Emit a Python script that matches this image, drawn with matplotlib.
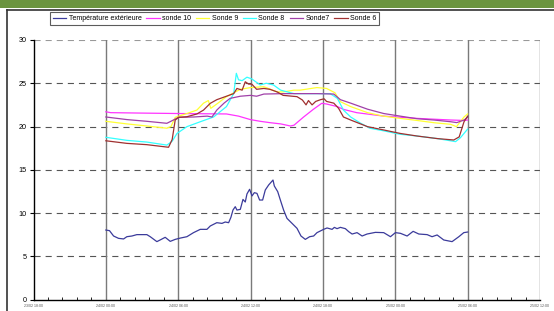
import matplotlib.pyplot as plt
from matplotlib.patches import Rectangle
from matplotlib.lines import Line2D
import numpy as np

plt.rcParams['font.family'] = ['Liberation Sans', 'DejaVu Sans']

# hours since 24/02 00:00
tick_labels = ["23/02 18:00", "24/02 00:00", "24/02 06:00", "24/02 12:00",
               "24/02 18:00", "25/02 00:00", "25/02 06:00", "25/02 12:00"]
tick_hours = [-6, 0, 6, 12, 18, 24, 30, 36]

ext_h = [0, 0.3, 0.64, 1.05, 1.47, 1.74, 2.16, 2.57, 3.4, 3.68, 4.23, 4.5, 4.92, 5.34,
         5.75, 6.17, 6.72, 7.27, 7.83, 8.38, 8.66, 9.2, 9.63, 9.9, 10.18, 10.37, 10.54,
         10.73, 10.87, 11.15, 11.37, 11.56, 11.7, 11.92, 12.12, 12.31, 12.53, 12.75, 13.0,
         13.22, 13.5, 13.86, 13.97, 14.25, 14.47, 14.74, 15.02, 15.44, 15.85, 16.18, 16.54,
         16.9, 17.23, 17.51, 18.06, 18.34, 18.76, 18.95, 19.17, 19.45, 19.86, 20.14, 20.42,
         20.83, 21.25, 21.66, 22.35, 23.04, 23.6, 24.01, 24.43, 24.98, 25.48, 25.95, 26.64,
         27.05, 27.47, 28.02, 28.71, 29.27, 29.68, 30.0]
ext_t = [8.03, 7.96, 7.34, 7.07, 7.0, 7.26, 7.34, 7.5, 7.5, 7.26, 6.69, 6.88, 7.19, 6.72,
         6.95, 7.1, 7.26, 7.73, 8.11, 8.11, 8.5, 8.88, 8.8, 8.96, 8.88, 9.5, 10.34,
         10.73, 10.34, 10.42, 11.57, 11.27, 12.2, 12.74, 11.97, 12.35, 12.27, 11.5, 11.5,
         12.66, 13.24, 13.81, 13.12, 12.47, 11.5, 10.34, 9.38, 8.8, 8.23, 7.34, 6.95,
         7.26, 7.34, 7.73, 8.11, 8.27, 8.11, 8.34, 8.19, 8.34, 8.19, 7.84, 7.57,
         7.73, 7.34, 7.57, 7.76, 7.73, 7.26, 7.73, 7.65, 7.34, 7.88, 7.57, 7.5,
         7.26, 7.46, 6.88, 6.69, 7.26, 7.73, 7.8]

s10_h = [0, 0.4, 3.0, 6.0, 10.0, 11.0, 11.98, 12.8, 13.63, 14.5, 15.3, 15.6, 16.4, 17.2,
         17.9, 18.3, 19.2, 19.7, 20.8, 23.04, 25.8, 28.6, 29.68, 30.0]
s10_t = [21.7, 21.6, 21.55, 21.5, 21.45, 21.2, 20.8, 20.6, 20.44, 20.3, 20.06, 20.15, 21.1,
         21.98, 22.68, 22.6, 22.3, 21.98, 21.6, 21.2, 20.94, 20.75, 20.7, 20.75]

s9_h = [0, 1.74, 3.4, 5.06, 5.4, 5.75, 6.72, 7.55, 8.1, 8.5, 8.7, 9.2, 10.0, 11.15, 12.0,
        13.1, 14.2, 14.7, 15.6, 16.1, 17.5, 18.3, 19.0, 19.45, 20.3, 21.7, 23.0, 24.4,
        25.8, 27.2, 28.6, 29.07, 29.7, 30.0]
s9_t = [20.6, 20.3, 20.06, 19.8, 20.0, 21.06, 21.5, 21.9, 22.7, 23.0, 22.1, 22.6, 23.45,
        24.3, 24.5, 24.6, 24.0, 24.0, 24.2, 24.2, 24.5, 24.4, 23.9, 22.87, 22.3, 21.6,
        21.2, 20.94, 20.7, 20.44, 20.25, 19.98, 21.1, 21.45]

s8_h = [0, 1.74, 3.4, 5.06, 5.5, 5.9, 6.72, 7.83, 8.93, 10.0, 10.6, 10.82, 11.0, 11.3,
        11.7, 12.1, 12.8, 13.3, 13.9, 14.5, 15.6, 17.5, 18.6, 19.2, 19.7, 20.3, 21.1,
        21.9, 23.04, 24.4, 25.8, 27.5, 29.0, 29.4, 30.0]
s8_t = [18.75, 18.4, 18.2, 17.85, 18.3, 19.2, 19.98, 20.55, 21.1, 22.3, 23.8, 26.15, 25.4,
        25.3, 25.7, 25.5, 24.8, 25.0, 24.8, 24.2, 23.8, 23.8, 23.8, 23.25, 21.9, 21.1, 20.4,
        19.8, 19.5, 19.1, 18.9, 18.6, 18.25, 18.7, 19.7]

s7_h = [0, 1.74, 3.4, 5.06, 5.6, 6.03, 7.3, 8.4, 8.8, 9.2, 9.8, 10.3, 11.15, 12.0, 12.5,
        13.1, 14.7, 17.5, 18.9, 19.45, 20.3, 21.7, 23.04, 24.4, 25.8, 27.2, 28.6, 29.1,
        29.7, 30.0]
s7_t = [21.1, 20.8, 20.6, 20.37, 20.75, 21.06, 21.1, 21.2, 21.1, 21.9, 22.7, 23.25, 23.5,
        23.6, 23.5, 23.75, 23.8, 23.8, 23.75, 23.1, 22.7, 22.0, 21.5, 21.2, 20.9, 20.75,
        20.55, 20.45, 20.75, 21.06]

s6_h = [0, 1.74, 3.4, 5.2, 5.5, 5.75, 6.03, 6.72, 7.55, 8.1, 8.66, 9.2, 10.0, 10.6, 10.87,
        11.3, 11.56, 11.84, 12.1, 12.5, 13.1, 13.6, 14.2, 14.7, 15.85, 16.3, 16.6, 16.8,
        17.1, 17.4, 17.8, 18.1, 18.3, 18.9, 19.3, 19.7, 20.3, 21.7, 23.04, 24.4, 25.8,
        27.5, 28.85, 29.3, 29.7, 30.0]
s6_t = [18.35, 18.05, 17.9, 17.6, 18.5, 20.75, 21.06, 21.13, 21.45, 21.9, 22.68, 23.1,
        23.5, 23.8, 24.4, 24.2, 25.17, 24.9, 24.9, 24.3, 24.4, 24.3, 24.0, 23.6, 23.45,
        23.06, 22.5, 23.0, 22.5, 22.9, 23.1, 23.2, 22.9, 22.7, 22.1, 21.1, 20.75, 19.98,
        19.6, 19.2, 18.9, 18.6, 18.44, 18.8, 20.55, 21.2]

series = [
    ("Température extérieure", ext_h, ext_t, "#3b3b9b"),
    ("sonde 10", s10_h, s10_t, "#ff33ff"),
    ("Sonde 9", s9_h, s9_t, "#ffff33"),
    ("Sonde 8", s8_h, s8_t, "#33ffff"),
    ("Sonde7", s7_h, s7_t, "#a040a8"),
    ("Sonde 6", s6_h, s6_t, "#a03030"),
]

fig = plt.figure(figsize=(5.54, 3.11), dpi=100)
fig.patch.set_facecolor("white")

# green banner + frame
fig.add_artist(Rectangle((0, 1 - 8 / 311), 1, 8 / 311, transform=fig.transFigure,
                         facecolor="#6b9440", edgecolor="none"))
fig.add_artist(Line2D([7 / 554, 1], [1 - 10 / 311, 1 - 10 / 311], transform=fig.transFigure,
                      color="#333333", lw=1.2))
fig.add_artist(Line2D([7 / 554, 7 / 554], [0, 1 - 10 / 311], transform=fig.transFigure,
                      color="#333333", lw=1.2))

ax = fig.add_axes([33.5 / 554, 11.5 / 311, (540 - 33.5) / 554, (299.5 - 40) / 311])

for y in range(5, 31, 5):
    ax.axhline(y, color="#555555" if y < 30 else "#999999", lw=0.8,
               linestyle=(0, (5.5, 4.5)), zorder=1)
for h in tick_hours[1:]:
    ax.axvline(h, color="#7a7a7a", lw=1.0, zorder=1)

for name, h, t, col in series:
    ax.plot(h, t, color=col, lw=0.9, label=name, zorder=3)

ax.set_xlim(-6, 36)
ax.set_ylim(0, 30)
ax.set_xticks(tick_hours)
ax.set_xticklabels(tick_labels, fontsize=2.6, color="#555555")
ax.set_xticks(np.arange(-6, 36.01, 1.2), minor=True)
ax.tick_params(axis="x", which="major", length=0, pad=3)
ax.tick_params(axis="x", which="minor", direction="in", length=2.5, width=0.6)
ax.set_yticks(range(0, 31, 5))
ax.tick_params(axis="y", length=3, width=0.8, labelsize=5.2, pad=2)
for s in ["top", "right"]:
    ax.spines[s].set_visible(False)
for s in ["left", "bottom"]:
    ax.spines[s].set_linewidth(1.0)

leg = fig.legend(loc="upper left", bbox_to_anchor=(50 / 554, 1 - 12 / 311), ncol=6,
                 fontsize=5, frameon=True, fancybox=False, edgecolor="#333333",
                 handlelength=1.9, handletextpad=0.35, columnspacing=0.7,
                 borderpad=0.45, borderaxespad=0)
leg.get_frame().set_linewidth(0.8)

fig.savefig("out.png", dpi=100)
